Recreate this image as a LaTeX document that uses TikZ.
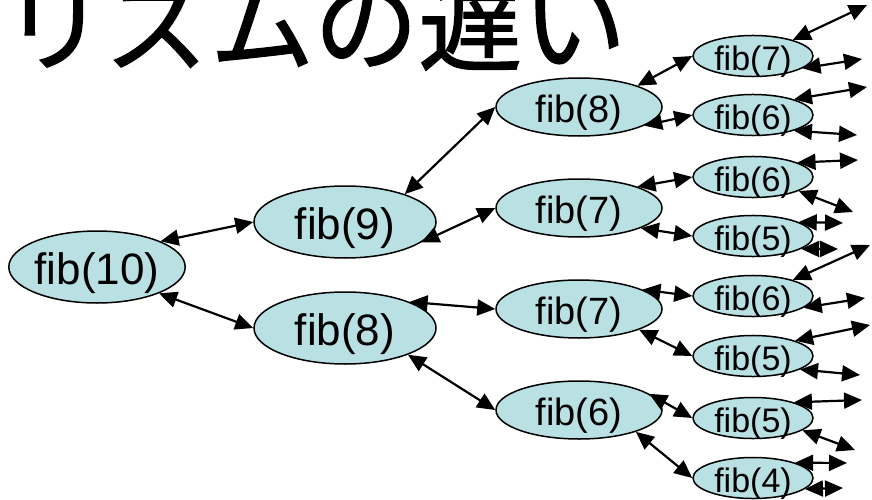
\documentclass[tikz,border=0pt]{standalone}
\usepackage{fontspec}
\setmainfont{Liberation Sans}
\newfontfamily\jpfont[FakeBold=1.2]{Noto Sans CJK JP}
\usetikzlibrary{arrows.meta,shapes.geometric}
\definecolor{nodefill}{RGB}{185,224,227}
\begin{document}
\begin{tikzpicture}[x=1pt,y=-1pt,
  fibnode/.style={ellipse, draw=black, line width=1.5pt, fill=nodefill, inner sep=0pt, text depth=0pt},
  lvla/.style={fibnode, minimum width=182pt, minimum height=72pt, text height=34pt, font=\fontsize{44}{44}\selectfont},
  lvlc/.style={fibnode, minimum width=166pt, minimum height=58pt, text height=30pt, font=\fontsize{38}{38}\selectfont},
  lvld/.style={fibnode, minimum width=120pt, minimum height=41pt, text height=29pt, font=\fontsize{34}{34}\selectfont},
  dbl/.style={{Triangle[length=18pt,width=16pt]}-{Triangle[length=18pt,width=16pt]}, line width=2.2pt},
  titletext/.style={anchor=base west, inner sep=0pt, font=\jpfont\fontsize{104}{104}\selectfont}
]
\useasboundingbox (0,0) rectangle (872,500);
\clip (0,0) rectangle (872,500);

\node[titletext] (title) at (2,63) {リズムの遅い};

% nodes
\node[lvla, minimum width=170pt] (n10) at (97,267) {fib(10)};
\node[lvla] (n9) at (345,222) {fib(9)};
\node[lvla] (n8) at (345,328) {fib(8)};

\node[lvlc] (m8)  at (579,107) {fib(8)};
\node[lvlc] (m7a) at (579,208) {fib(7)};
\node[lvlc] (m7b) at (579,309) {fib(7)};
\node[lvlc] (m6)  at (579,410) {fib(6)};

\node[lvld] (k1) at (753,56)  {fib(7)};
\node[lvld] (k2) at (753,115) {fib(6)};
\node[lvld] (k3) at (753,177) {fib(6)};
\node[lvld] (k4) at (753,236) {fib(5)};
\node[lvld] (k5) at (753,296) {fib(6)};
\node[lvld] (k6) at (753,356) {fib(5)};
\node[lvld] (k7) at (753,418) {fib(5)};
\node[lvld] (k8) at (753,478) {fib(4)};

% tree edges
\draw[dbl] (n10.22)  -- (n9.180);
\draw[dbl] (n10.-23) -- (n8.180);
\draw[dbl] (n9.25)   -- (m8.180);
\draw[dbl] (n9.-15)  -- (m7a.180);
\draw[dbl] (n8.22)   -- (m7b.180);
\draw[dbl] (n8.-23)  -- (m6.180);
\draw[dbl] (m8.20)   -- (k1.180);
\draw[dbl] (m8.-16)  -- (k2.180);
\draw[dbl] (m7a.20)  -- (k3.180);
\draw[dbl] (m7a.-18) -- (k4.180);
\draw[dbl] (m7b.17)  -- (k5.180);
\draw[dbl] (m7b.-19) -- (k6.180);
\draw[dbl] (m6.13)   -- (k7.180);
\draw[dbl] (m6.-21)  -- (k8.180);

% free ends
\coordinate (e1a) at (867,5);   \coordinate (e1b) at (862,59);
\coordinate (e2a) at (867,87);  \coordinate (e2b) at (857,135);
\coordinate (e3a) at (858,160); \coordinate (e3b) at (853,212);
\coordinate (e4a) at (843,223); \coordinate (e4b) at (838,249);
\coordinate (e5a) at (870,245); \coordinate (e5b) at (865,298);
\coordinate (e6a) at (870,325); \coordinate (e6b) at (860,375);
\coordinate (e7a) at (862,400); \coordinate (e7b) at (855,450);
\coordinate (e8a) at (847,463); \coordinate (e8b) at (843,488);

\draw[dbl] (k1.22)  -- (e1a);
\draw[dbl] (k1.-14) -- (e1b);
\draw[dbl] (k2.21)  -- (e2a);
\draw[dbl] (k2.-21) -- (e2b);
\draw[dbl] (k3.18)  -- (e3a);
\draw[dbl] (k3.-17) -- (e3b);
\draw[dbl] (k4.17)  -- (e4a);
\draw[dbl] (k4.-15) -- (e4b);
\draw[dbl] (k5.22)  -- (e5a);
\draw[dbl] (k5.-13) -- (e5b);
\draw[dbl] (k6.20)  -- (e6a);
\draw[dbl] (k6.-16) -- (e6b);
\draw[dbl] (k7.21)  -- (e7a);
\draw[dbl] (k7.-14) -- (e7b);
\draw[dbl] (k8.20)  -- (e8a);
\draw[dbl] (k8.-12) -- (e8b);
\end{tikzpicture}
\end{document}
